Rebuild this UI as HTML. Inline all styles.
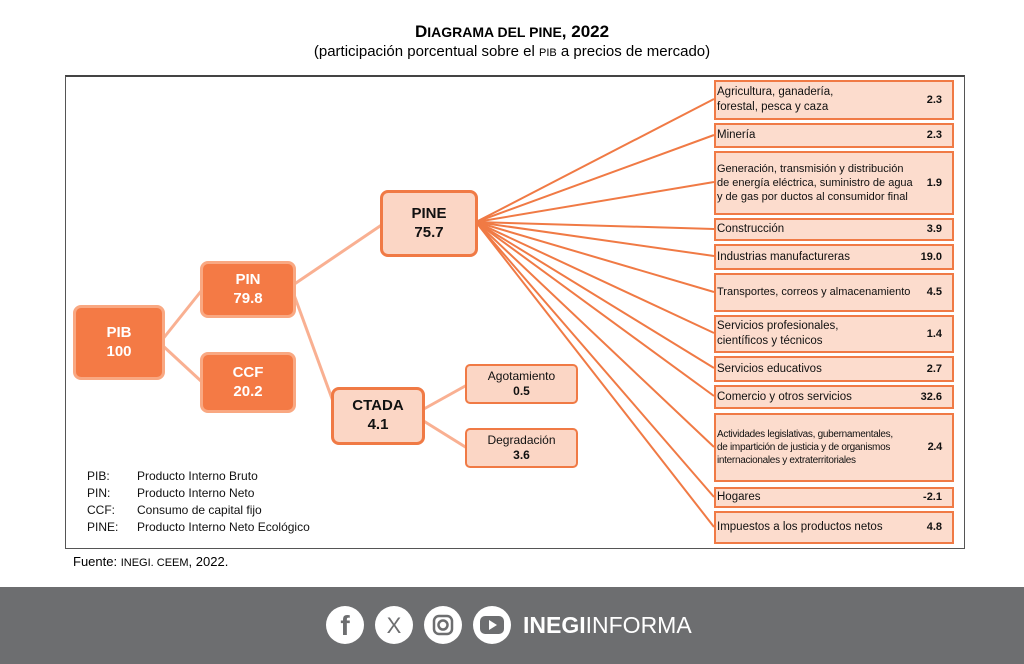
<!DOCTYPE html>
<html><head><meta charset="utf-8"><style>
body{margin:0;width:1024px;height:664px;background:#fff;position:relative;overflow:hidden;font-family:"Liberation Sans",sans-serif;}
.t{position:absolute;left:0;width:1024px;text-align:center;color:#000}
.frame{position:absolute;left:65px;top:75px;width:900px;height:474px;border:1.5px solid #555;border-top:2px solid #444;box-sizing:border-box}
.n{position:absolute;box-sizing:border-box;border-radius:8px;text-align:center;font-weight:bold;display:flex;flex-direction:column;justify-content:center;line-height:1.25}
.d{background:#f47a45;border:3px solid #f9a882;color:#fff;font-size:15px}
.l{background:#fbd6c5;border:3px solid #f07a45;color:#111;font-size:15px}
.s{font-size:12px;font-weight:normal}
.r{position:absolute;left:714px;width:240px;box-sizing:border-box;background:#fcdccd;border:2px solid #f07a45;font-size:11.5px;color:#111;display:flex;align-items:center;padding-left:1px;line-height:1.3}
.r b{position:absolute;right:10px;font-size:11px}
.leg{position:absolute;left:87px;font-size:12px;color:#111}
.leg span{position:absolute;left:50px;white-space:nowrap}
</style></head><body>
<div class="t" style="top:22px;font-size:17px;font-weight:bold">D<span style="font-size:14px">IAGRAMA DEL PINE</span>, 2022</div>
<div class="t" style="top:43px;font-size:15px">(participación porcentual sobre el <span style="font-size:11px">PIB</span> a precios de mercado)</div>
<div class="frame"></div>
<svg style="position:absolute;left:0;top:0" width="1024" height="664">
<g stroke="#f9b092" stroke-width="3" fill="none">
<line x1="162" y1="340" x2="202" y2="290"/><line x1="162" y1="345" x2="202" y2="382"/>
<line x1="293" y1="285" x2="383" y2="224"/><line x1="293" y1="292" x2="338" y2="415"/>
<line x1="422" y1="410" x2="467" y2="385"/><line x1="422" y1="420" x2="467" y2="448"/>
</g>
<g stroke="#f07a45" stroke-width="2" fill="none">
<line x1="476" y1="222" x2="714" y2="99"/><line x1="476" y1="222" x2="714" y2="135"/>
<line x1="476" y1="222" x2="714" y2="182"/><line x1="476" y1="222" x2="714" y2="229"/>
<line x1="476" y1="222" x2="714" y2="256"/><line x1="476" y1="222" x2="714" y2="292"/>
<line x1="476" y1="222" x2="714" y2="333"/><line x1="476" y1="222" x2="714" y2="368"/>
<line x1="476" y1="222" x2="714" y2="396"/><line x1="476" y1="222" x2="714" y2="447"/>
<line x1="476" y1="222" x2="714" y2="497"/><line x1="476" y1="222" x2="714" y2="527"/>
</g></svg>
<div class="n d" style="left:73px;top:305px;width:92px;height:75px">PIB<br>100</div>
<div class="n d" style="left:200px;top:261px;width:96px;height:57px">PIN<br>79.8</div>
<div class="n d" style="left:200px;top:352px;width:96px;height:61px">CCF<br>20.2</div>
<div class="n l" style="left:380px;top:190px;width:98px;height:67px">PINE<br>75.7</div>
<div class="n l" style="left:331px;top:387px;width:94px;height:58px">CTADA<br>4.1</div>
<div class="n l s" style="left:465px;top:364px;width:113px;height:40px;border-width:2px;border-radius:5px">Agotamiento<br><b>0.5</b></div>
<div class="n l s" style="left:465px;top:428px;width:113px;height:40px;border-width:2px;border-radius:5px">Degradación<br><b>3.6</b></div>
<div class="r" style="top:80px;height:40px">Agricultura, ganadería,<br>forestal, pesca y caza<b>2.3</b></div>
<div class="r" style="top:123px;height:25px">Minería<b>2.3</b></div>
<div class="r" style="top:151px;height:64px;font-size:11px">Generación, transmisión y distribución<br>de energía eléctrica, suministro de agua<br>y de gas por ductos al consumidor final<b>1.9</b></div>
<div class="r" style="top:218px;height:23px">Construcción<b>3.9</b></div>
<div class="r" style="top:244px;height:26px">Industrias manufactureras<b>19.0</b></div>
<div class="r" style="top:273px;height:39px;font-size:11px">Transportes, correos y almacenamiento<b>4.5</b></div>
<div class="r" style="top:315px;height:38px">Servicios profesionales,<br>científicos y técnicos<b>1.4</b></div>
<div class="r" style="top:356px;height:26px">Servicios educativos<b>2.7</b></div>
<div class="r" style="top:385px;height:24px">Comercio y otros servicios<b>32.6</b></div>
<div class="r" style="top:413px;height:69px;font-size:10px;letter-spacing:-0.3px">Actividades legislativas, gubernamentales,<br>de impartición de justicia y de organismos<br>internacionales y extraterritoriales<b>2.4</b></div>
<div class="r" style="top:487px;height:21px">Hogares<b>-2.1</b></div>
<div class="r" style="top:511px;height:33px">Impuestos a los productos netos<b>4.8</b></div>
<div class="leg" style="top:469px">PIB:<span>Producto Interno Bruto</span></div>
<div class="leg" style="top:486px">PIN:<span>Producto Interno Neto</span></div>
<div class="leg" style="top:503px">CCF:<span>Consumo de capital fijo</span></div>
<div class="leg" style="top:520px">PINE:<span>Producto Interno Neto Ecológico</span></div>
<div style="position:absolute;left:73px;top:554px;font-size:13px">Fuente: <span style="font-size:11px">INEGI. CEEM</span>, 2022.</div>
<div style="position:absolute;left:0;top:587px;width:1024px;height:77px;background:#6d6e70"></div>
<svg style="position:absolute;left:0;top:587px" width="1024" height="77">
<g fill="#fff"><circle cx="345" cy="38" r="19"/><circle cx="394" cy="38" r="19"/><circle cx="443" cy="38" r="19"/><circle cx="492" cy="38" r="19"/></g>
<text x="345" y="48" font-family="Liberation Sans" font-weight="bold" font-size="28" fill="#6d6e70" text-anchor="middle">f</text>
<text x="394" y="46" font-family="Liberation Sans" font-size="22" fill="#6d6e70" text-anchor="middle">X</text>
<rect x="434" y="29" width="18" height="18" rx="5" fill="none" stroke="#6d6e70" stroke-width="2.5"/><circle cx="443" cy="38" r="4.5" fill="none" stroke="#6d6e70" stroke-width="2.5"/>
<rect x="480" y="29" width="24" height="18" rx="5" fill="#6d6e70"/><polygon points="489,33 489,43 497,38" fill="#fff"/>
<text x="523" y="46" font-family="Liberation Sans" font-size="23" fill="#fff"><tspan font-weight="bold">INEGI</tspan>INFORMA</text>
</svg>
</body></html>
